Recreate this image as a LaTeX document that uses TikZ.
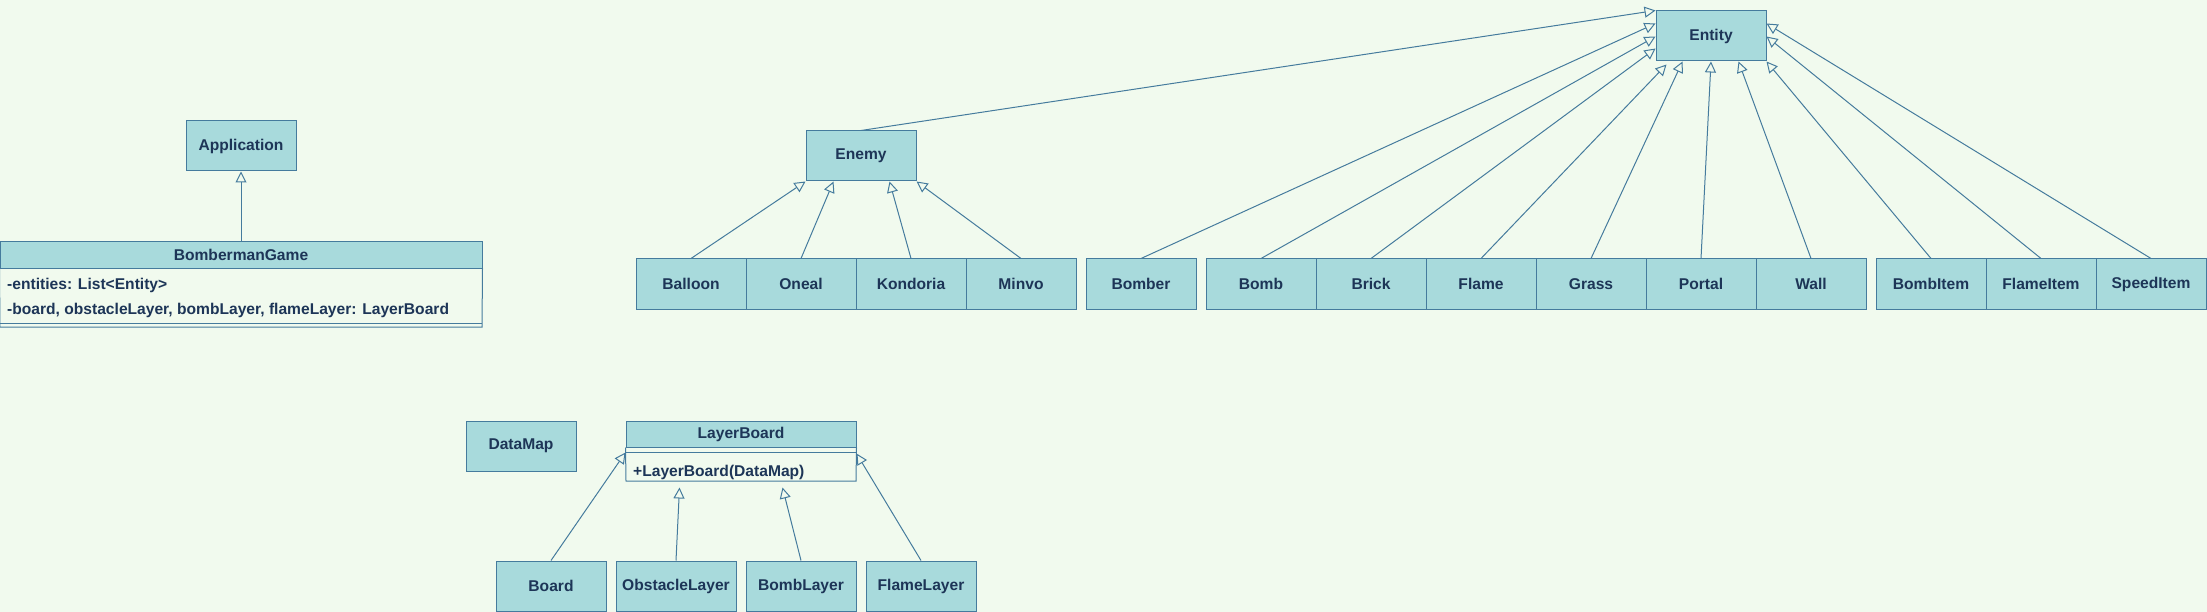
\documentclass[tikz,border=0pt]{standalone}
\usepackage{fontspec}
\setmainfont{Liberation Sans}
\usepackage{xcolor}
\usetikzlibrary{arrows.meta,calc}
\definecolor{bgcol}{HTML}{F1FAEE}
\definecolor{boxfill}{HTML}{A8DADC}
\definecolor{boxline}{HTML}{457B9D}
\definecolor{boxtext}{HTML}{1D3557}

\begin{document}
\begin{tikzpicture}[x=1pt,y=-1pt,font=\fontsize{15.6}{18}\selectfont\bfseries,
	cls/.style={draw=boxline,fill=boxfill,text=boxtext,line width=1pt,minimum width=110pt,minimum height=50pt,inner sep=0pt},
	head/.style={cls,minimum height=26pt},
	attr/.style={text=boxtext,anchor=west,inner sep=0pt},
	inherit/.style={draw=boxline,line width=1pt,-{Triangle[open,length=11pt,width=11pt]}}]
	\fill[bgcol] (0,0) rectangle (2207,612);
	\useasboundingbox (0,0) rectangle (2207,612);
	% application and game class
	\node[cls] (app) at (241,146) {Application};
	\node[head,minimum width=482pt] (game) at (241,255) {BombermanGame};
	\draw[boxline,line width=1pt] (game.south west) -- (0,327) -- (482,327) -- (game.south east);
	\draw[boxline,line width=1pt] (0,323) -- (482,323);
	\node[attr] (entities) at (7,285) {-entities: List<Entity>};
	\node[attr] (layers) at (7,310) {-board, obstacleLayer, bombLayer, flameLayer: LayerBoard};
	\draw[inherit] (game.north) -- (app.south);
	% entity tree
	\node[cls] (entity) at (1711,36) {Entity};
	\node[cls] (enemy) at (861,156) {Enemy};
	\node[cls] (balloon) at (691,284) {Balloon};
	\node[cls] (oneal) at (801,284) {Oneal};
	\node[cls] (kondoria) at (911,284) {Kondoria};
	\node[cls] (minvo) at (1021,284) {Minvo};
	\node[cls] (bomber) at (1141,284) {Bomber};
	\node[cls] (bomb) at (1261,284) {Bomb};
	\node[cls] (brick) at (1371,284) {Brick};
	\node[cls] (flame) at (1481,284) {Flame};
	\node[cls] (grass) at (1591,284) {Grass};
	\node[cls] (portal) at (1701,284) {Portal};
	\node[cls] (wall) at (1811,284) {Wall};
	\node[cls] (bombitem) at (1931,284) {BombItem};
	\node[cls] (flameitem) at (2041,284) {FlameItem};
	\node[cls] (speeditem) at (2151,284) {SpeedItem};
	\draw[inherit] (balloon.north) -- (enemy.south west);
	\draw[inherit] (oneal.north) -- ($(enemy.south west)+(28,0)$);
	\draw[inherit] (kondoria.north) -- ($(enemy.south east)+(-27,0)$);
	\draw[inherit] (minvo.north) -- (enemy.south east);
	\draw[inherit] (enemy.north) -- (entity.north west);
	\draw[inherit] (bomber.north) -- ($(entity.north west)+(0,13)$);
	\draw[inherit] (bomb.north) -- ($(entity.north west)+(0,26)$);
	\draw[inherit] (brick.north) -- ($(entity.north west)+(0,38)$);
	\draw[inherit] (flame.north) -- ($(entity.south west)+(11,3)$);
	\draw[inherit] (grass.north) -- ($(entity.south west)+(27,0)$);
	\draw[inherit] (portal.north) -- (entity.south);
	\draw[inherit] (wall.north) -- ($(entity.south east)+(-28,0)$);
	\draw[inherit] (bombitem.north) -- (entity.south east);
	\draw[inherit] (flameitem.north) -- ($(entity.north east)+(0,26)$);
	\draw[inherit] (speeditem.north) -- ($(entity.north east)+(0,13)$);
	% map and layers
	\node[cls] (datamap) at (521,446) {DataMap};
	\node[head,minimum width=230pt] (layer) at (741,434) {LayerBoard};
	\draw[boxline,line width=1pt] (layer.south west) -- (626,481) -- (856,481) -- (layer.south east);
	\draw[boxline,line width=1pt] (626,452) -- (856,452);
	\node[attr] (ctor) at (633,472) {+LayerBoard(DataMap)};
	\node[cls] (board) at (551,586) {Board};
	\node[cls,minimum width=120pt] (obstacle) at (676,586) {ObstacleLayer};
	\node[cls] (bomblayer) at (801,586) {BombLayer};
	\node[cls] (flamelayer) at (921,586) {FlameLayer};
	\draw[inherit] (board.north) -- ($(layer.south west)+(0,5)$);
	\draw[inherit] (obstacle.north) -- ($(layer.south west)+(54,40)$);
	\draw[inherit] (bomblayer.north) -- ($(layer.south west)+(157,40)$);
	\draw[inherit] (flamelayer.north) -- ($(layer.south east)+(0,6)$);
\end{tikzpicture}
\end{document}
